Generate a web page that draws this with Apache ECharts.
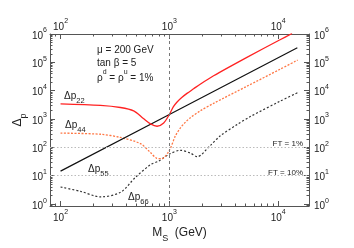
<!DOCTYPE html>
<html><head><meta charset="utf-8">
<script src="https://cdn.jsdelivr.net/npm/echarts@6/dist/echarts.min.js"></script>
<style>html,body{margin:0;padding:0;background:#fff}#c{width:354px;height:248px}</style>
</head><body><div id="c"></div>
<script>
// Tick exponents (labels shown as 10^n)
const xTickExps = [2, 3, 4];
const yTickExps = [0, 1, 2, 3, 4, 5, 6];

// Δp22 (red, solid)
const m22 = [100, 233, 355, 470, 577, 670, 771, 887, 1000, 1090, 1178, 1300, 1452, 1670, 1920, 2550, 3500, 5160, 10400, 13400];
const p22 = [3430, 3030, 2550, 1940, 1040, 676, 557, 721, 1450, 2730, 4010, 5740, 8040, 11670, 16900, 33500, 66700, 1.5e5, 6.25e5, 1.04e6];

// Δp44 (orange, dotted)
const m44 = [100, 233, 355, 542, 670, 760, 850, 1000, 1135, 1260, 1400, 1560, 1920, 2550, 5160, 10400, 15100];
const p44 = [318, 291, 224, 136, 66, 42, 40, 79, 252, 481, 765, 1116, 1940, 3584, 14340, 56900, 1.2e5];

// Δp55 (black, solid)
const m55 = [100, 1000, 15000];
const p55 = [14.5, 1450, 3.26e5];

// Δp66 (dark grey, dotted)
const m66 = [100, 153, 233, 355, 487, 670, 800, 1000, 1260, 1560, 1806, 2380, 2940, 4180, 5540, 10400, 15100];
const p66 = [4.0, 2.8, 1.8, 2.6, 8.7, 24.5, 33, 58, 79, 63, 47, 117, 256, 635, 1220, 4250, 8500];

// Reference lines
const ftLevels = [100, 10];   // FT = 1%, FT = 10%
const refMass = 1000;

const L = Math.log10;
const pts = (m, v) => m.map((x, i) => [L(x), L(v[i])]);
function minors(lo, hi) { const o = []; for (let e = lo; e <= hi; e++) for (let k = 2; k <= 9; k++) o.push(e + L(k)); return o; }

const xMin = L(80), xMax = L(19200), yMin = -0.068, yMax = 6;
const F = '"Liberation Sans", Arial, sans-serif';
const C = '#222';
const supRich = {
  b: { fontSize: 10, fontFamily: F, color: C, lineHeight: 14, verticalAlign: 'bottom' },
  s: { fontSize: 7, fontFamily: F, color: C, lineHeight: 8, verticalAlign: 'top' }
};
const subRich = (fs) => ({
  b: { fontSize: fs, fontFamily: F, color: C, fill: C, lineHeight: fs + 4, verticalAlign: 'top' },
  s: { fontSize: fs * 0.75, fontFamily: F, color: C, fill: C, lineHeight: fs * 0.75 + 2, verticalAlign: 'bottom' }
});
const fmt = v => '{b|10}{s|' + Math.round(v) + '}';
const axCol = '#555';

function majorAxis(pos, min, max, ticks, margin, extra) {
  return Object.assign({
    type: 'value', position: pos, min: min, max: max,
    axisLine: { show: true, onZero: false, lineStyle: { color: axCol, width: 1 } },
    axisTick: { show: true, inside: true, length: 5, customValues: ticks, lineStyle: { color: axCol } },
    axisLabel: { show: true, margin: margin, customValues: ticks, formatter: fmt, rich: supRich },
    splitLine: { show: false }
  }, extra || {});
}
function minorAxis(pos, min, max, ticks) {
  return {
    type: 'value', position: pos, min: min, max: max,
    axisLine: { show: false, onZero: false },
    axisTick: { show: true, inside: true, length: 2.5, customValues: ticks, lineStyle: { color: axCol } },
    axisLabel: { show: false },
    splitLine: { show: false }
  };
}

const xMinor = minors(1, 4), yMinor = minors(-1, 5);

const option = {
  animation: false,
  grid: { left: 50, right: 45, top: 34, bottom: 35 },
  xAxis: [
    majorAxis('bottom', xMin, xMax, xTickExps, 3, {
      name: '{b|M}{s|S}{b|  (GeV)}', nameLocation: 'middle', nameGap: 21, nameMoveOverlap: false,
      nameTextStyle: { rich: subRich(12) }
    }),
    minorAxis('bottom', xMin, xMax, xMinor),
    majorAxis('top', xMin, xMax, xTickExps, 2),
    minorAxis('top', xMin, xMax, xMinor)
  ],
  yAxis: [
    majorAxis('left', yMin, yMax, yTickExps, 3, {
      name: '{b|Δ}{s|p}', nameLocation: 'middle', nameGap: 22, nameRotate: 90, nameMoveOverlap: false,
      nameTextStyle: { rich: subRich(12) }
    }),
    minorAxis('left', yMin, yMax, yMinor),
    majorAxis('right', yMin, yMax, yTickExps, 5),
    minorAxis('right', yMin, yMax, yMinor)
  ],
  series: [
    {
      type: 'line', name: 'ref', data: [], silent: true,
      markLine: {
        silent: true, symbol: ['none', 'none'], label: { show: false },
        data: [
          { xAxis: L(refMass), lineStyle: { color: '#777', type: [3, 3], width: 1 } },
          { yAxis: L(ftLevels[0]), lineStyle: { color: '#bbb', type: [1.5, 2], width: 1 } },
          { yAxis: L(ftLevels[1]), lineStyle: { color: '#bbb', type: [1.5, 2], width: 1 } }
        ]
      }
    },
    { type: 'line', name: 'Δp66', data: pts(m66, p66), showSymbol: false, smooth: 0.3,
      lineStyle: { color: '#333', width: 1.2, type: [2, 2] } },
    { type: 'line', name: 'Δp44', data: pts(m44, p44), showSymbol: false, smooth: 0.3,
      lineStyle: { color: '#ff7744', width: 1.3, type: [2, 1.5] } },
    { type: 'line', name: 'Δp55', data: pts(m55, p55), showSymbol: false, smooth: false,
      lineStyle: { color: '#111', width: 1.2 } },
    { type: 'line', name: 'Δp22', data: pts(m22, p22), showSymbol: false, smooth: 0.3,
      lineStyle: { color: '#ff2222', width: 1.3 } }
  ],
  graphic: [
    { type: 'text', x: 97, y: 50, style: { text: 'μ = 200 GeV', font: '10px ' + F, fill: C, verticalAlign: 'middle' } },
    { type: 'text', x: 97, y: 63, style: { text: 'tan β = 5', font: '10px ' + F, fill: C, verticalAlign: 'middle' } },
    { type: 'text', x: 97, y: 76, style: { text: '{b|ρ}{s|d}{b| = ρ}{s|u}{b| = 1%}', rich: {
        b: { fontSize: 10, fontFamily: F, fill: C, lineHeight: 14, verticalAlign: 'bottom' },
        s: { fontSize: 7, fontFamily: F, fill: C, lineHeight: 8, verticalAlign: 'top' } }, verticalAlign: 'middle' } },
    { type: 'text', x: 64, y: 98, style: { text: '{b|Δp}{s|22}', rich: subRich(10), verticalAlign: 'middle' } },
    { type: 'text', x: 65, y: 127, style: { text: '{b|Δp}{s|44}', rich: subRich(10), verticalAlign: 'middle' } },
    { type: 'text', x: 88, y: 171, style: { text: '{b|Δp}{s|55}', rich: subRich(10), verticalAlign: 'middle' } },
    { type: 'text', x: 128, y: 199, style: { text: '{b|Δp}{s|66}', rich: subRich(10), verticalAlign: 'middle' } },
    { type: 'text', x: 303, y: 144, style: { text: 'FT = 1%', font: '8px ' + F, fill: C, align: 'right', verticalAlign: 'middle' } },
    { type: 'text', x: 303, y: 173, style: { text: 'FT = 10%', font: '8px ' + F, fill: C, align: 'right', verticalAlign: 'middle' } }
  ]
};
const chart = echarts.init(document.getElementById('c'), null, { renderer: 'canvas' });
chart.setOption(option);
</script></body></html>
